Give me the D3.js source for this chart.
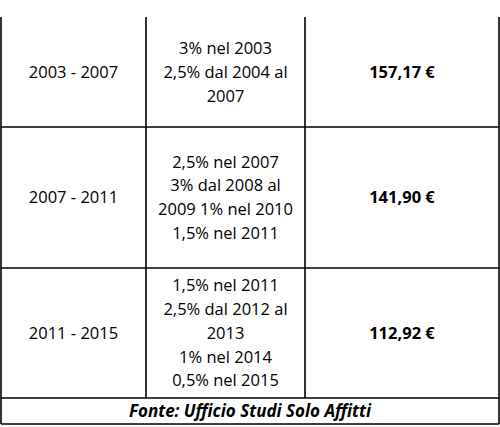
<!DOCTYPE html>
<html><head><meta charset="utf-8">
<script src="https://cdn.jsdelivr.net/npm/d3@7"></script>
<style>body{margin:0;background:#fff}</style>
</head><body>
<svg id="t" width="500" height="427"></svg>
<script>
const periods = ["2003 - 2007", "2007 - 2011", "2011 - 2015"];
const rates = [
  ["3% nel 2003", "2,5% dal 2004 al", "2007"],
  ["2,5% nel 2007", "3% dal 2008 al", "2009 1% nel 2010", "1,5% nel 2011"],
  ["1,5% nel 2011", "2,5% dal 2012 al", "2013", "1% nel 2014", "0,5% nel 2015"]
];
const amounts = ["157,17 €", "141,90 €", "112,92 €"];
const source = "Fonte: Ufficio Studi Solo Affitti";

// layout
const rowEdges = [17, 127, 268, 398];
const footerBottom = 424;
const colEdges = [1, 146, 305, 499];
const lineH = 23.8;
const font = "Open Sans, sans-serif";

const svg = d3.select("#t");
const x = d3.scaleOrdinal().domain([0, 1, 2]).range([0, 1, 2].map(i => (colEdges[i] + colEdges[i + 1]) / 2));
const y = d3.scaleOrdinal().domain(periods).range(periods.map((d, i) => (rowEdges[i] + rowEdges[i + 1]) / 2));

const g = svg.append("g").attr("stroke", "#000").attr("stroke-width", 1.6);
// verticals
colEdges.forEach((cx, i) => {
  const y2 = (i === 0 || i === 3) ? footerBottom : rowEdges[3];
  g.append("line").attr("x1", cx).attr("x2", cx).attr("y1", rowEdges[0]).attr("y2", y2);
});
// horizontals
rowEdges.slice(1).concat([footerBottom]).forEach(cy => {
  g.append("line").attr("x1", colEdges[0]).attr("x2", colEdges[3]).attr("y1", cy).attr("y2", cy);
});

const cell = (cx, cy, lines, weight) => {
  const t = svg.append("text").attr("text-anchor", "middle").attr("font-family", font)
    .attr("font-size", 16.5).attr("font-weight", weight).attr("fill", "#000");
  lines.forEach((l, k) => {
    t.append("tspan").attr("x", cx).attr("y", cy + (k - (lines.length - 1) / 2) * lineH)
      .attr("dy", "0.35em").text(l);
  });
};

periods.forEach((p, i) => {
  cell(x(0), y(p), [p], "normal");
  cell(x(1), y(p), rates[i], "normal");
  cell(x(2), y(p), [amounts[i]], "bold");
});

svg.append("text").attr("x", 250).attr("y", (rowEdges[3] + footerBottom) / 2).attr("dy", "0.35em")
  .attr("text-anchor", "middle").attr("font-family", font).attr("font-size", 17)
  .attr("font-style", "italic").attr("font-weight", "bold").text(source);
</script>
</body></html>
